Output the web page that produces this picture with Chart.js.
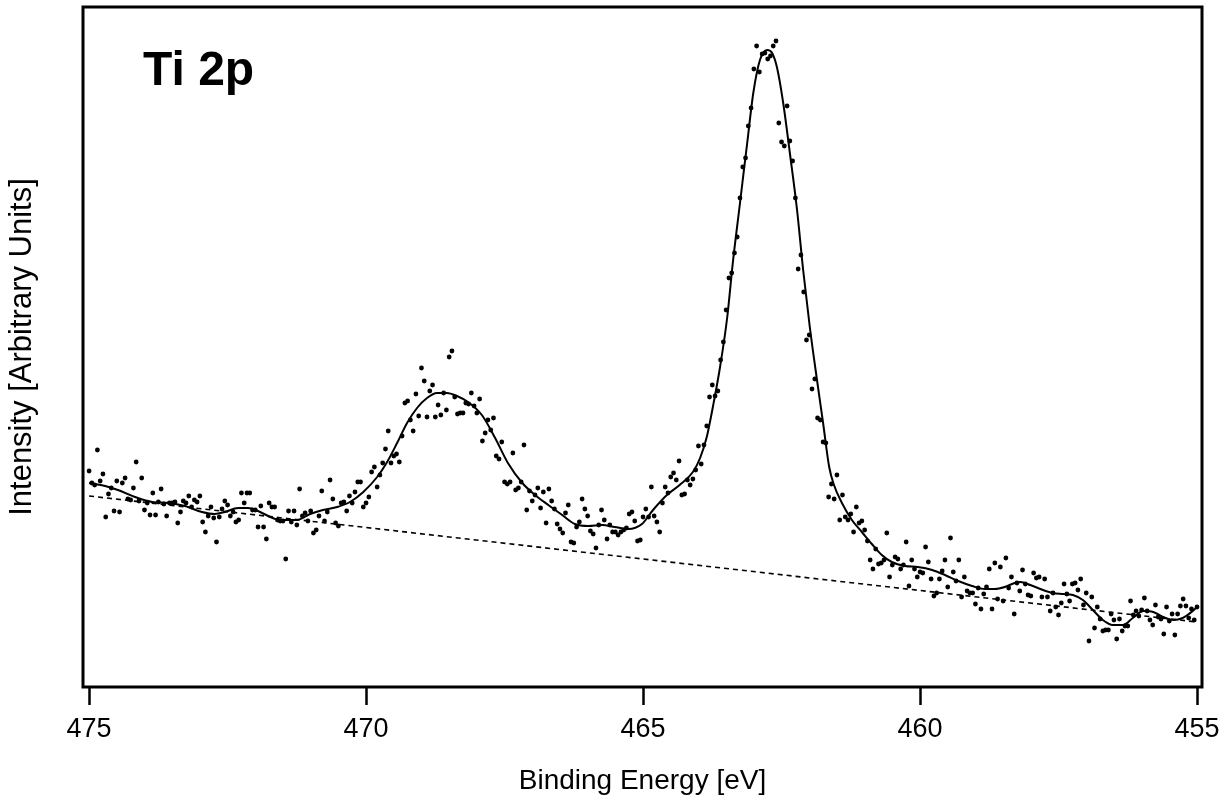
<!DOCTYPE html>
<html><head><meta charset="utf-8">
<script src="https://cdn.jsdelivr.net/npm/chart.js@4.4.1/dist/chart.umd.min.js"></script>
<style>html,body{margin:0;padding:0;background:#fff;}#wrap{width:1230px;height:801px;}</style>
</head><body><div id="wrap"><canvas id="c" width="1230" height="801"></canvas></div>
<script>
const panelLabel = 'Ti 2p';
const xTitle = 'Binding Energy [eV]';
const yTitle = 'Intensity [Arbitrary Units]';
const tickLabels = [475, 470, 465, 460, 455];
const energyStart = 475;
const energyStep = 0.05;
const counts = [
216,204,202,237,206,213,170,193,199,176,206,175,204,209,188,187,199,225,186,209,
177,184,172,194,172,185,198,183,171,184,184,185,164,175,186,184,191,180,187,185,
191,165,155,171,180,169,145,170,178,186,182,171,175,165,167,194,184,194,194,177,
177,160,181,160,148,184,180,180,
167,166,166,128,176,165,176,162,198,171,174,166,176,154,157,171,196,166,175,207,
188,164,161,184,185,176,191,184,195,205,205,180,184,190,215,220,200,212,224,238,
256,224,231,233,225,251,284,286,267,256,293,271,319,306,270,296,302,270,282,272,
294,277,330,336,290,273,
274,274,284,283,294,281,274,288,246,254,267,257,269,231,228,245,205,203,205,234,
197,199,205,242,177,196,186,192,199,179,195,164,198,186,178,163,158,154,174,182,
145,144,160,165,188,178,171,156,153,139,162,177,167,148,162,155,155,152,155,157,
159,173,175,166,146,147,170,
178,170,200,171,165,155,184,200,194,210,214,207,226,192,193,207,202,208,217,241,
223,242,261,290,302,291,296,327,345,377,409,414,434,450,489,520,529,561,579,
618,641,615,633,634,628,631,641,646,
564,545,541,581,546,526,489,418,432,395,347,352,298,308,269,267,245,244,
190,203,188,212,167,192,170,167,173,155,180,164,166,157,146,127,118,138,123,124,
127,154,110,122,130,128,118,122,145,101,127,118,110,115,114,140,125,108,91,94,
108,116,127,100,149,115,106,127,90,110,96,94,94,83,99,78,93,100,118,78,
124,88,120,86,129,99,110,
73,104,96,117,103,92,91,114,109,110,90,108,90,76,94,80,72,84,103,93,
86,103,104,97,108,82,94,46,90,59,80,68,56,57,57,73,67,48,68,56,
61,61,86,72,76,71,77,89,76,67,62,82,70,68,53,80,66,73,52,73,
81,88,81,69,78,67,80
];
const fitEnergies = [
475.0,474.71,474.48,474.17,473.86,473.57,473.27,472.96,472.73,472.55,
472.31,472.13,471.95,471.73,471.55,471.25,471.01,470.78,470.52,470.29,
470.05,469.80,469.62,469.44,469.26,469.08,468.90,468.72,468.54,468.36,
468.16,467.91,467.67,467.44,467.18,466.95,466.71,466.46,466.23,465.99,
465.74,465.51,465.27,465.02,464.82,464.57,464.34,464.10,463.97,463.85,
463.74,463.61,463.48,463.38,463.25,463.12,463.01,462.89,462.76,462.67,
462.58,462.47,462.35,462.22,462.11,461.99,461.86,461.75,461.64,461.56,
461.41,461.23,461.05,460.87,460.69,460.51,460.27,460.04,459.78,459.55,
459.31,459.06,458.83,458.65,458.47,458.29,458.19,458.01,457.78,457.60,
457.42,457.24,457.06,456.88,456.70,456.52,456.34,456.16,455.97,455.79,
455.61,455.43,455.26,455.10,455.00
];
const fitCounts = [
204,201,197,190,185,184,181,175,173,175,
179,179,176,170,167,167,173,177,180,185,
195,210,225,244,264,279,289,294,294,291,
285,272,249,224,204,192,182,172,163,161,
162,160,158,163,177,192,202,215,229,250,
280,320,370,424,484,544,594,627,637,634,
619,584,534,477,417,360,307,264,220,203,
184,167,155,143,132,125,121,120,117,112,
106,101,98,98,100,104,105,102,97,94,
93,92,87,77,67,62,62,69,76,75,
70,67,69,75,80
];
const baselineEnergies = [475, 455];
const baselineCounts = [191, 65];

const energies = counts.map((_, i) => +(energyStart - energyStep * i).toFixed(2));
const narrow = '"Liberation Sans Narrow", "Liberation Sans", Arial, sans-serif';
const regular = '"Liberation Sans", Arial, sans-serif';

const framePlugin = {
  id: 'frame',
  afterDraw(chart) {
    const {ctx, chartArea: a} = chart;
    ctx.save();
    ctx.strokeStyle = '#000';
    ctx.lineWidth = 3;
    ctx.strokeRect(a.left, a.top, a.right - a.left, a.bottom - a.top);
    ctx.fillStyle = '#000';
    ctx.font = 'bold 48px ' + regular;
    ctx.textBaseline = 'alphabetic';
    ctx.textAlign = 'left';
    ctx.fillText(panelLabel, a.left + 60, a.top + 78);
    ctx.restore();
  }
};

new Chart(document.getElementById('c'), {
  type: 'scatter',
  data: {
    datasets: [
      {
        label: 'data',
        data: energies.map((e, i) => ({x: e, y: counts[i]})),
        showLine: false,
        pointRadius: 2.4,
        pointBorderWidth: 0,
        pointBackgroundColor: '#000',
        pointBorderColor: '#000',
        order: 2
      },
      {
        label: 'fit',
        data: fitEnergies.map((e, i) => ({x: e, y: fitCounts[i]})),
        showLine: true,
        pointRadius: 0,
        borderColor: '#000',
        borderWidth: 2,
        cubicInterpolationMode: 'monotone',
        fill: false,
        order: 1
      },
      {
        label: 'background',
        data: baselineEnergies.map((e, i) => ({x: e, y: baselineCounts[i]})),
        showLine: true,
        pointRadius: 0,
        borderColor: '#000',
        borderWidth: 1.6,
        borderDash: [5, 4],
        fill: false,
        order: 3
      }
    ]
  },
  options: {
    responsive: false,
    animation: false,
    devicePixelRatio: 1,
    layout: {padding: {top: 7, right: 28, bottom: 0, left: 0}},
    plugins: {legend: {display: false}, tooltip: {enabled: false}},
    scales: {
      x: {
        type: 'linear',
        position: 'bottom',
        reverse: true,
        min: 454.91,
        max: 475.11,
        afterBuildTicks: s => { s.ticks = tickLabels.map(v => ({value: v})); },
        afterFit: s => { s.height = 114; },
        ticks: {
          color: '#000',
          font: {family: narrow, size: 27},
          padding: 8,
          maxRotation: 0,
          autoSkip: false,
          callback: v => String(v)
        },
        grid: {display: true, drawOnChartArea: false, drawTicks: true, tickLength: 18, tickWidth: 2.5, tickColor: '#000'},
        border: {display: false},
        title: {display: true, text: xTitle, color: '#000', font: {family: narrow, size: 28}, padding: {top: 0, bottom: 3}}
      },
      y: {
        type: 'linear',
        position: 'left',
        min: 0,
        max: 680,
        afterFit: s => { s.width = 83; },
        ticks: {display: false},
        grid: {display: false, drawTicks: false},
        border: {display: false},
        title: {display: true, text: yTitle, color: '#000', font: {family: regular, size: 31}, padding: {top: 4, bottom: 0}}
      }
    }
  },
  plugins: [framePlugin]
});
</script>
</body></html>
